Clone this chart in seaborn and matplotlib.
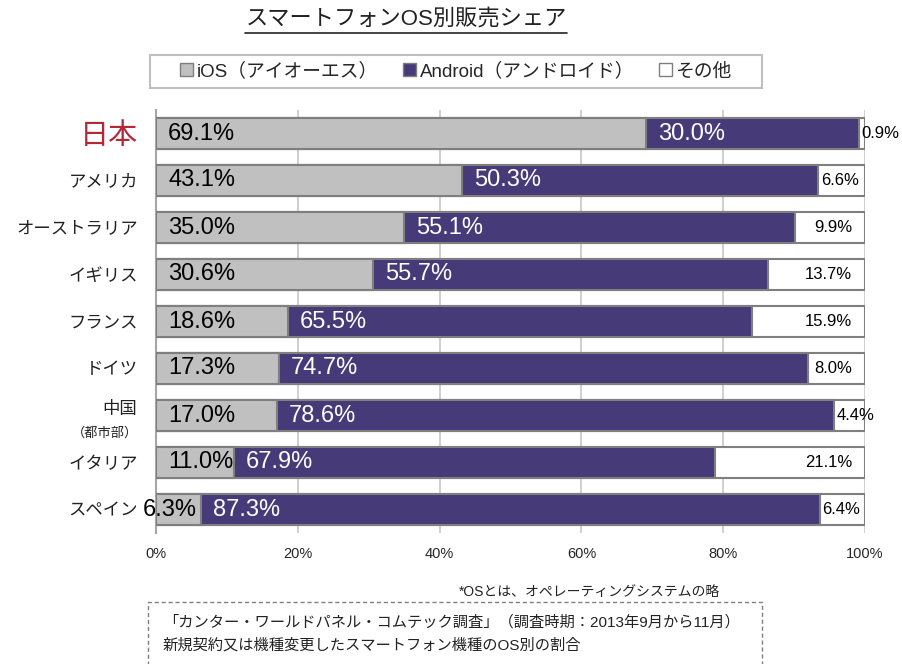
import numpy as np
import pandas as pd
import seaborn as sns
import matplotlib.pyplot as plt
from matplotlib.patches import Patch, Rectangle
from matplotlib.lines import Line2D

countries = ["日本", "アメリカ", "オーストラリア", "イギリス", "フランス", "ドイツ", "中国", "イタリア", "スペイン"]
ios = [69.1, 43.1, 35.0, 30.6, 18.6, 17.3, 17.0, 11.0, 6.3]
android = [30.0, 50.3, 55.1, 55.7, 65.5, 74.7, 78.6, 67.9, 87.3]
other = [0.9, 6.6, 9.9, 13.7, 15.9, 8.0, 4.4, 21.1, 6.4]
xticks = [0, 20, 40, 60, 80, 100]

ios_color = "#c0c0c0"
android_color = "#463a78"
edge = "#7f7f7f"

sns.set_theme(style="white")
plt.rcParams['font.family'] = ['Liberation Sans', 'Noto Sans CJK JP', 'DejaVu Sans']

df = pd.DataFrame({"country": countries, "ios": ios, "android": android, "other": other})
df["ios_end"] = df["ios"]
df["android_end"] = df["ios"] + df["android"]
df["total"] = df["android_end"] + df["other"]

fig = plt.figure(figsize=(9.03, 6.64), dpi=100)
ax = fig.add_axes([156 / 903, 1 - 533 / 664, 709 / 903, 423 / 664])

# stacked bars drawn as layers: total -> ios+android -> ios
for col, c in [("total", "white"), ("android_end", android_color), ("ios_end", ios_color)]:
    sns.barplot(data=df, x=col, y="country", color=c, saturation=1, edgecolor=edge,
                linewidth=1.5, width=0.64, ax=ax, zorder=3)

ax.set_xlim(0, 100)
ax.set_ylim(8.5, -0.5)
ax.set_xticks(xticks)
ax.set_xticklabels([f"{t}%" for t in xticks], fontsize=10.5)
ax.set_xlabel("")
ax.set_ylabel("")
ax.tick_params(axis='x', length=0, pad=10)
ax.tick_params(axis='y', length=0, pad=13)
ax.grid(axis='x', color="#cccccc", lw=1.3, zorder=0)
ax.set_axisbelow(True)
for s in ["top", "right", "bottom"]:
    ax.spines[s].set_visible(False)
ax.spines["left"].set_color("#a6a6a6")
ax.spines["left"].set_linewidth(1.5)

ylabels = [c if c != "中国" else "" for c in countries]
ax.set_yticks(range(len(countries)))
ax.set_yticklabels(ylabels, fontsize=12.5, color="#222222")
ax.get_yticklabels()[0].set_color("#b22a3a")
ax.get_yticklabels()[0].set_fontsize(21)

ci = countries.index("中国")
ytr = ax.get_yaxis_transform()
ax.text(-0.027, ci - 0.13, "中国", transform=ytr, ha='right', va='center', fontsize=12.5, color="#222222")
ax.text(-0.025, ci + 0.38, "（都市部）", transform=ytr, ha='right', va='center', fontsize=9.5, color="#222222")

# data labels
for i, r in df.iterrows():
    if r.ios < 8:
        ax.text(r.ios - 0.5, i, f"{r.ios:.1f}%", ha='right', va='center', fontsize=17, color="black", zorder=5)
    else:
        ax.text(1.7, i, f"{r.ios:.1f}%", ha='left', va='center', fontsize=17, color="black", zorder=5)
    ax.text(r.ios + 1.7, i, f"{r.android:.1f}%", ha='left', va='center', fontsize=17, color="white", zorder=5)
    if r.other < 7:
        ax.text(r.android_end + 0.4, i, f"{r.other:.1f}%", ha='left', va='center', fontsize=12, color="black", zorder=5)
    else:
        ax.text(98.2, i, f"{r.other:.1f}%", ha='right', va='center', fontsize=12, color="black", zorder=5)

# title with underline
title = fig.text(406 / 903, 1 - 19 / 664, "スマートフォンOS別販売シェア", ha='center', va='center', fontsize=16, color="#222222")

handles = [Patch(facecolor=ios_color, edgecolor=edge),
           Patch(facecolor=android_color, edgecolor=edge),
           Patch(facecolor="white", edgecolor=edge)]
labels = ["iOS（アイオーエス）", "Android（アンドロイド）", "その他"]
leg = fig.legend(handles, labels, loc='center', bbox_to_anchor=(456 / 903, 1 - 71.5 / 664), ncol=3,
                 frameon=False, fontsize=13.5, handlelength=0.7,
                 handleheight=0.7, handletextpad=0.2, columnspacing=1.3, borderpad=0, borderaxespad=0)
fig.add_artist(Rectangle((150 / 903, 1 - 88 / 664), 612 / 903, 33 / 664, transform=fig.transFigure,
                         fill=False, ec="#bfbfbf", lw=1.5))

fig.text(720 / 903, 1 - 592 / 664, "*OSとは、オペレーティングシステムの略", ha='right', va='center', fontsize=10, color="#222222")
box = Rectangle((148 / 903, -0.02), (762 - 148) / 903, (664 - 602) / 664 + 0.02, transform=fig.transFigure,
                fill=False, ls=(0, (3, 2)), ec="#808080", lw=1)
fig.add_artist(box)
fig.text(163 / 903, 1 - 622 / 664, "「カンター・ワールドパネル・コムテック調査」（調査時期：2013年9月から11月）",
         ha='left', va='center', fontsize=11, color="#222222")
fig.text(163 / 903, 1 - 645 / 664, "新規契約又は機種変更したスマートフォン機種のOS別の割合",
         ha='left', va='center', fontsize=11, color="#222222")

fig.canvas.draw()
bb = title.get_window_extent().transformed(fig.transFigure.inverted())
fig.add_artist(Line2D([bb.x0, bb.x1], [1 - 33 / 664] * 2, transform=fig.transFigure, color="#222222", lw=1.2))

fig.savefig("out.png", dpi=100)
